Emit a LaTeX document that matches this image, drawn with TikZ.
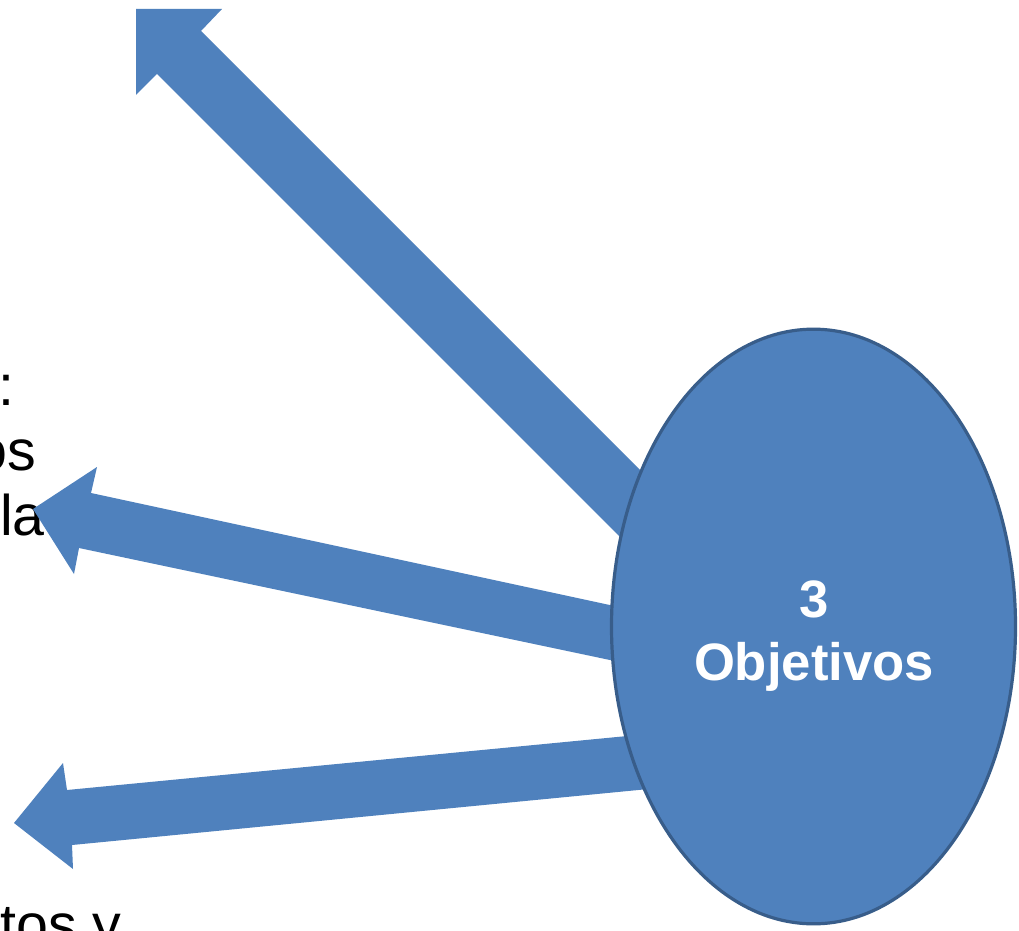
\documentclass[tikz,border=0pt]{standalone}
\usepackage{fontspec}
\setmainfont{Liberation Sans}
\usetikzlibrary{shapes.geometric}
\definecolor{ofblue}{HTML}{4F81BD}
\definecolor{ofborder}{HTML}{385D8A}
\tikzset{
  blockarrow/.style={fill=ofblue},
  hub/.style={ellipse, draw=ofborder, line width=2.4pt, fill=ofblue, inner sep=0pt,
    minimum width=303pt, minimum height=446pt},
  hubtext/.style={inner sep=0pt, text=white, align=center,
    font=\bfseries\fontsize{39.5}{47}\selectfont},
  sidetext/.style={inner sep=0pt, text=black, font=\fontsize{43}{48}\selectfont}
}
\begin{document}
\begin{tikzpicture}[x=0.75pt,y=-0.75pt]
\useasboundingbox (0,0) rectangle (1019,930);
\clip (0,0) rectangle (1019,930);
\fill[white] (0,0) rectangle (1019,930);
% cut-off texts at the left edge
\node[sidetext, anchor=base west] (t1) at (-2,405) {:};
\node[sidetext, anchor=base east] (t2) at (36,470) {os};
\node[sidetext, anchor=base west] (t3) at (0,535) {la};
\node[sidetext, anchor=base west] (t4) at (0,944) {tos y};
% arrow tips
\coordinate (tipA) at (136,9);
\coordinate (tipB) at (33,509);
\coordinate (tipC) at (14,823);
% block arrows
\fill[blockarrow] (tipA) -- (222,9) -- (201,31) -- (700,530) -- (700,617) -- (157,74) -- (136,95) -- cycle;
\fill[blockarrow] (tipB) -- (97,467) -- (91,493) -- (700,624.5) -- (700,679) -- (79,548) -- (74,574) -- cycle;
\fill[blockarrow] (tipC) -- (63,763) -- (67,790) -- (700,729) -- (700,784) -- (72,845) -- (73,869) -- cycle;
% hub
\node[hub] (hub) at (813.5,626.5) {};
\node[hubtext] (hublabel) at (814,636) {3\\Objetivos};
\end{tikzpicture}
\end{document}
